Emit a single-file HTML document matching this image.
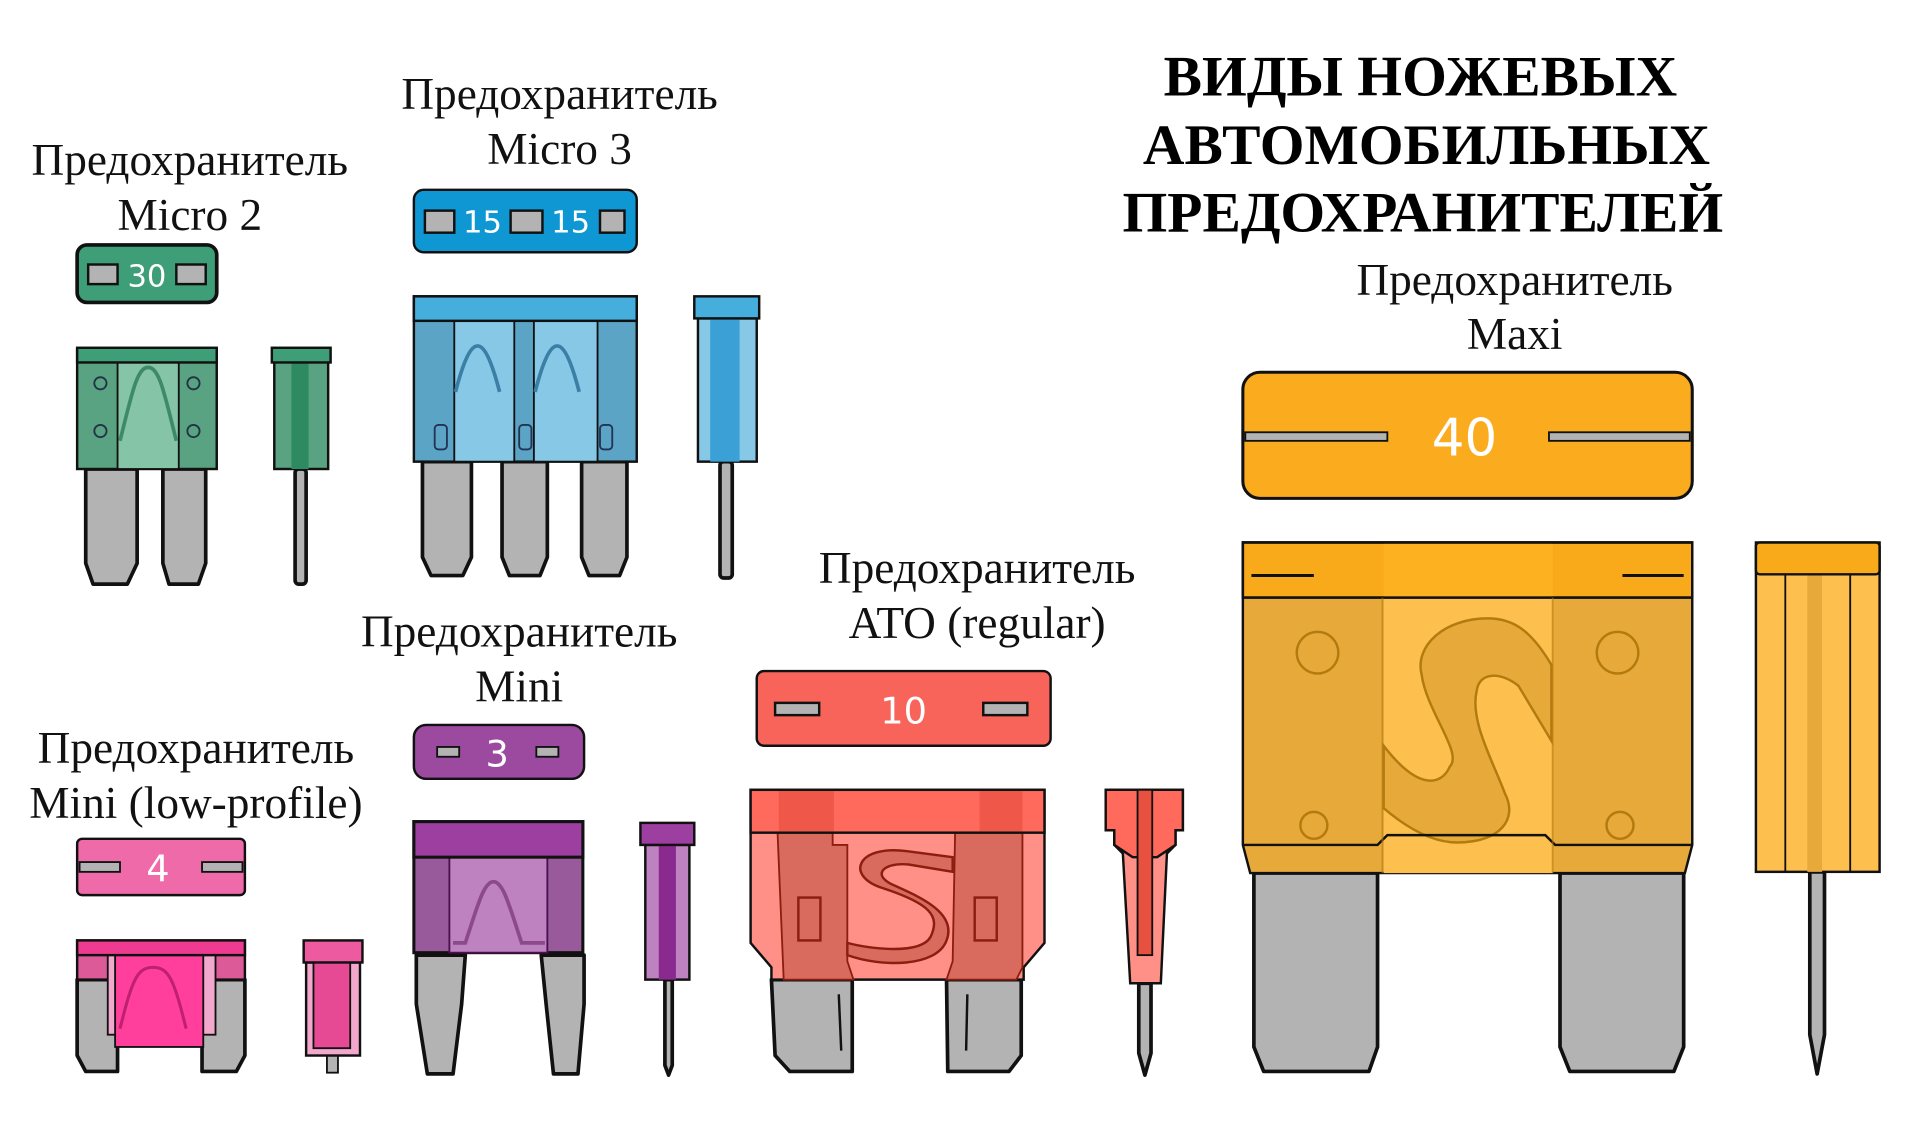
<!DOCTYPE html>
<html><head><meta charset="utf-8"><style>
html,body{margin:0;padding:0;background:#fff;width:1920px;height:1148px;overflow:hidden}
svg{display:block}
.l{font-family:"Liberation Serif",serif;font-size:37px;fill:#111;text-anchor:middle}
.t{font-family:"Liberation Serif",serif;font-size:47px;font-weight:bold;fill:#000;text-anchor:middle}
.n{font-family:"DejaVu Sans","Liberation Sans",sans-serif;fill:#fff;text-anchor:middle}
.k{stroke:#111;stroke-width:3;stroke-linejoin:round}
.g{fill:#b3b3b3}
</style></head><body>
<svg width="1920" height="1148" viewBox="0 0 1568 937.5" xmlns="http://www.w3.org/2000/svg">
<!-- Title -->
<text class="t" x="1160" y="78">ВИДЫ НОЖЕВЫХ</text>
<text class="t" x="1165" y="134">АВТОМОБИЛЬНЫХ</text>
<text class="t" x="1162" y="189">ПРЕДОХРАНИТЕЛЕЙ</text>

<!-- Labels -->
<text class="l" x="155" y="143">Предохранитель</text><text class="l" x="155" y="188">Micro 2</text>
<text class="l" x="457" y="89">Предохранитель</text><text class="l" x="457" y="134">Micro 3</text>
<text class="l" x="1237" y="241">Предохранитель</text><text class="l" x="1237" y="285">Maxi</text>
<text class="l" x="424" y="528">Предохранитель</text><text class="l" x="424" y="573">Mini</text>
<text class="l" x="798" y="476">Предохранитель</text><text class="l" x="798" y="521">ATO (regular)</text>
<text class="l" x="160" y="623">Предохранитель</text><text class="l" x="160" y="668">Mini (low-profile)</text>

<!-- Micro 2 -->
<rect x="63" y="200" width="114" height="47" rx="8" fill="#3e9e78" class="k" stroke-width="2"/>
<rect x="72" y="216" width="24" height="16" fill="#b3b3b3" stroke="#111" stroke-width="2"/>
<rect x="144" y="216" width="24" height="16" fill="#b3b3b3" stroke="#111" stroke-width="2"/>
<text class="n" x="120" y="234" font-size="25">30</text>
<path class="k g" d="M70 383 V460 L76 477 H104 L112 460 V383 Z" stroke-width="2"/>
<path class="k g" d="M133 383 V460 L138 477 H162 L168 460 V383 Z" stroke-width="2"/>
<rect x="63" y="285" width="114" height="98" fill="#5aa382" stroke="#111" stroke-width="2"/>
<rect x="96" y="296" width="50" height="87" fill="#86c4a8" stroke="#111" stroke-width="1.5"/>
<rect x="63" y="284" width="114" height="12" fill="#3e9e78" stroke="#111" stroke-width="2"/>
<circle cx="82" cy="313" r="5" fill="none" stroke="#234" stroke-width="1.5"/><circle cx="82" cy="352" r="5" fill="none" stroke="#234" stroke-width="1.5"/>
<circle cx="158" cy="313" r="5" fill="none" stroke="#234" stroke-width="1.5"/><circle cx="158" cy="352" r="5" fill="none" stroke="#234" stroke-width="1.5"/>
<path d="M98 360 C108 320 112 300 121 300 C130 300 134 320 144 360" fill="none" stroke="#3e8a68" stroke-width="3"/>
<rect x="241" y="383" width="9" height="94" rx="3" class="k g" stroke-width="1.5"/>
<rect x="224" y="295" width="44" height="88" fill="#5aa382" stroke="#111" stroke-width="2"/>
<rect x="238" y="295" width="14" height="88" fill="#2e8a60"/>
<rect x="222" y="284" width="48" height="12" fill="#3e9e78" stroke="#111" stroke-width="2"/>

<!-- Micro 3 -->
<rect x="338" y="155" width="182" height="51" rx="8" fill="#0f97d4" stroke="#111" stroke-width="2"/>
<rect x="347" y="172" width="24" height="18" fill="#b3b3b3" stroke="#111" stroke-width="2"/>
<rect x="417" y="172" width="26" height="18" fill="#b3b3b3" stroke="#111" stroke-width="2"/>
<rect x="490" y="172" width="20" height="18" fill="#b3b3b3" stroke="#111" stroke-width="2"/>
<text class="n" x="394" y="190" font-size="25">15</text><text class="n" x="466" y="190" font-size="25">15</text>
<path class="k g" d="M345 377 V455 L352 470 H378 L385 455 V377 Z" stroke-width="2"/>
<path class="k g" d="M410 377 V455 L416 470 H441 L447 455 V377 Z" stroke-width="2"/>
<path class="k g" d="M475 377 V455 L481 470 H506 L512 455 V377 Z" stroke-width="2"/>
<rect x="338" y="242" width="182" height="135" fill="#5ba4c6" stroke="#111" stroke-width="2"/>
<rect x="371" y="262" width="49" height="115" fill="#86c8e6" stroke="#111" stroke-width="1.5"/>
<rect x="436" y="262" width="52" height="115" fill="#86c8e6" stroke="#111" stroke-width="1.5"/>
<rect x="338" y="242" width="182" height="20" fill="#45aedc" stroke="#111" stroke-width="2"/>
<path d="M372 320 C385 270 395 270 408 320 M437 320 C450 270 460 270 473 320" fill="none" stroke="#3b7fa6" stroke-width="3"/>
<rect x="355" y="347" width="10" height="20" rx="3" fill="none" stroke="#235" stroke-width="1.5"/>
<rect x="424" y="347" width="10" height="20" rx="3" fill="none" stroke="#235" stroke-width="1.5"/>
<rect x="490" y="347" width="10" height="20" rx="3" fill="none" stroke="#235" stroke-width="1.5"/>
<rect x="588" y="377" width="10" height="95" rx="3" class="k g" stroke-width="1.5"/>
<rect x="570" y="260" width="48" height="117" fill="#86c8e6" stroke="#111" stroke-width="2"/>
<rect x="580" y="260" width="24" height="117" fill="#3aa0d6"/>
<rect x="567" y="242" width="53" height="18" fill="#45aedc" stroke="#111" stroke-width="2"/>

<!-- Maxi -->
<rect x="1015" y="304" width="367" height="103" rx="14" fill="#fbac1e" stroke="#111" stroke-width="2.5"/>
<rect x="1017" y="353" width="116" height="7" fill="#b3b3b3" stroke="#111" stroke-width="1.5"/>
<rect x="1265" y="353" width="115" height="7" fill="#b3b3b3" stroke="#111" stroke-width="1.5"/>
<text class="n" x="1196" y="372" font-size="42">40</text>
<path class="k g" d="M1024 713 V855 L1032 875 H1118 L1125 855 V713 Z" stroke-width="2"/>
<path class="k g" d="M1274 713 V855 L1282 875 H1367 L1375 855 V713 Z" stroke-width="2"/>
<path d="M1015 443 H1382 V690 L1376 713 H1021 L1015 690 Z" fill="#e6a93a" stroke="#111" stroke-width="2"/>
<rect x="1130" y="488" width="138" height="225" fill="#fdc04f"/>
<path d="M1267 543 C1250 514 1235 505 1215 505 C1180 505 1155 527 1161 551 C1165 581 1195 615 1184 626 C1178 640 1160 648 1130 609 L1130 660 C1150 677 1170 688 1190 688 C1225 688 1240 669 1229 648 C1220 623 1200 589 1206 564 C1208 549 1225 548 1240 560 L1267 605 Z" fill="#e6a93a" stroke="#b37a10" stroke-width="2"/>
<rect x="1015" y="443" width="367" height="45" fill="#f8aa1a" stroke="#111" stroke-width="2"/>
<rect x="1130" y="444" width="138" height="43" fill="#fdb020"/>
<path d="M1015 443 H1382 V488 H1015 Z" fill="none" stroke="#111" stroke-width="2"/>
<path d="M1022 470 H1073 M1325 470 H1375" stroke="#111" stroke-width="2.5"/>
<circle cx="1076" cy="533" r="17" fill="none" stroke="#b37a10" stroke-width="2"/>
<circle cx="1321" cy="533" r="17" fill="none" stroke="#b37a10" stroke-width="2"/>
<circle cx="1073" cy="674" r="11" fill="none" stroke="#b37a10" stroke-width="2"/>
<circle cx="1323" cy="674" r="11" fill="none" stroke="#b37a10" stroke-width="2"/>
<path d="M1015 690 H1125 L1133 682 H1262 L1270 690 H1382" fill="none" stroke="#111" stroke-width="2"/>
<path d="M1129 488 V713 M1268 488 V713" stroke="#b37a10" stroke-width="1.5" opacity=".6"/>
<path d="M1478 712 V845 L1484 877 L1490 845 V712 Z" class="k g" stroke-width="1.5"/>
<rect x="1434" y="443" width="101" height="269" fill="#fdc04f" stroke="#111" stroke-width="2"/>
<rect x="1476" y="443" width="12" height="269" fill="#e6a93a"/>
<path d="M1458 469 V712 M1511 469 V712" stroke="#111" stroke-width="1.5"/>
<rect x="1434" y="443" width="101" height="26" rx="3" fill="#f8aa1a" stroke="#111" stroke-width="2"/>

<!-- ATO -->
<rect x="618" y="548" width="240" height="61" rx="6" fill="#f8645a" stroke="#111" stroke-width="2"/>
<rect x="633" y="574" width="36" height="10" fill="#b3b3b3" stroke="#111" stroke-width="2"/>
<rect x="803" y="574" width="36" height="10" fill="#b3b3b3" stroke="#111" stroke-width="2"/>
<text class="n" x="738" y="591" font-size="30">10</text>
<path class="k g" d="M630 800 H696 V875 H645 L633 862 Z" stroke-width="2"/>
<path class="k g" d="M773 800 H834 V862 L824 875 H774 Z" stroke-width="2"/>
<path d="M685 812 L687 858 M790 812 L789 858" stroke="#111" stroke-width="2"/>
<path d="M613 645 H853 V770 L836 790 V800 H630 V790 L613 770 Z" fill="#ff9088" stroke="#111" stroke-width="2"/>
<path d="M635 680 H680 V690 H692 V785 L697 800 H640 Z" fill="#d86a5e" stroke="#8a1f10" stroke-width="1.5"/>
<path d="M780 680 H835 V790 L830 800 H773 L778 785 Z" fill="#d86a5e" stroke="#8a1f10" stroke-width="1.5"/>
<rect x="652" y="733" width="18" height="35" fill="none" stroke="#8a1f10" stroke-width="2"/>
<rect x="796" y="733" width="18" height="35" fill="none" stroke="#8a1f10" stroke-width="2"/>
<path d="M778 700 L740 695 C700 690 690 715 720 725 C760 738 768 748 760 765 C752 780 710 775 692 770 L692 780 C720 790 765 790 773 768 C782 745 750 732 728 722 C712 714 722 704 742 706 L778 712 Z" fill="#d86a5e" stroke="#8a1f10" stroke-width="2"/>
<rect x="613" y="645" width="240" height="35" fill="#ff6a5c" stroke="#111" stroke-width="2"/>
<rect x="636" y="646" width="45" height="33" fill="#e85040" opacity=".7"/><rect x="800" y="646" width="35" height="33" fill="#e85040" opacity=".7"/>
<path d="M930 803 V860 L935 878 L940 860 V803 Z" class="k g" stroke-width="1.5"/>
<path d="M903 645 H966 V678 H960 V690 L953 697 L948 803 H923 L917 697 L910 690 V678 H903 Z" fill="#ff9088" stroke="#111" stroke-width="2"/>
<path d="M903 645 H966 V678 H960 V690 L945 700 H925 L910 690 V678 H903 Z" fill="#ff6a5c" stroke="#111" stroke-width="2"/>
<rect x="929" y="645" width="12" height="135" fill="#e85040" stroke="#111" stroke-width="1.5"/>

<!-- Mini -->
<rect x="338" y="592" width="139" height="44" rx="10" fill="#9b4aa0" stroke="#111" stroke-width="2"/>
<rect x="357" y="610" width="18" height="8" fill="#b3b3b3" stroke="#111" stroke-width="1.5"/>
<rect x="438" y="610" width="18" height="8" fill="#b3b3b3" stroke="#111" stroke-width="1.5"/>
<text class="n" x="406" y="626" font-size="30">3</text>
<path class="k g" d="M340 780 V820 L349 877 H370 L377 820 L380 780 Z" stroke-width="2"/>
<path class="k g" d="M442 780 L446 820 L452 877 H472 L477 820 V780 Z" stroke-width="2"/>
<rect x="338" y="671" width="138" height="107" fill="#985a9a" stroke="#111" stroke-width="2.5"/>
<rect x="367" y="700" width="80" height="78" fill="#bf82c0" stroke="#4a1050" stroke-width="1.5"/>
<rect x="338" y="671" width="138" height="29" fill="#9c3fa0" stroke="#111" stroke-width="2.5"/>
<path d="M370 770 H380 C390 740 395 720 403 720 C411 720 416 740 426 770 H445" fill="none" stroke="#8a4a8c" stroke-width="3"/>
<path d="M543 800 V870 L546 878 L549 870 V800 Z" class="k g" stroke-width="1.5"/>
<rect x="527" y="690" width="36" height="110" fill="#bf82c0" stroke="#111" stroke-width="2"/>
<rect x="538" y="690" width="14" height="110" fill="#8a2a8e"/>
<rect x="523" y="672" width="44" height="18" fill="#9c3fa0" stroke="#111" stroke-width="2"/>

<!-- Mini LP -->
<rect x="63" y="685" width="137" height="46" rx="4" fill="#ef6aa8" stroke="#111" stroke-width="2"/>
<rect x="65" y="704" width="33" height="8" fill="#b3b3b3" stroke="#111" stroke-width="1.5"/>
<rect x="165" y="704" width="33" height="8" fill="#b3b3b3" stroke="#111" stroke-width="1.5"/>
<text class="n" x="129" y="720" font-size="30">4</text>
<path class="k g" d="M63 800 V862 L70 875 H96 V845 H165 V875 H193 L200 862 V800 Z" stroke-width="2"/>
<rect x="63" y="768" width="137" height="32" fill="#dd5a98" stroke="#111" stroke-width="2"/>
<rect x="88" y="780" width="88" height="65" fill="#f2a8cc" stroke="#111" stroke-width="1.5"/>
<rect x="94" y="780" width="72" height="75" fill="#ff3f9b" stroke="#111" stroke-width="1.5"/>
<rect x="63" y="768" width="137" height="12" fill="#ee3a90" stroke="#111" stroke-width="2"/>
<path d="M98 840 C108 800 112 790 125 790 C138 790 142 800 152 840" fill="none" stroke="#c02070" stroke-width="2.5"/>
<rect x="267" y="858" width="9" height="18" fill="#b3b3b3" stroke="#111" stroke-width="1.5"/>
<rect x="250" y="786" width="44" height="76" fill="#f2a8cc" stroke="#111" stroke-width="2"/>
<rect x="256" y="786" width="30" height="70" fill="#e64a94" stroke="#111" stroke-width="1.5"/>
<rect x="248" y="768" width="48" height="18" fill="#ee5aa0" stroke="#111" stroke-width="2"/>
</svg>
</body></html>
